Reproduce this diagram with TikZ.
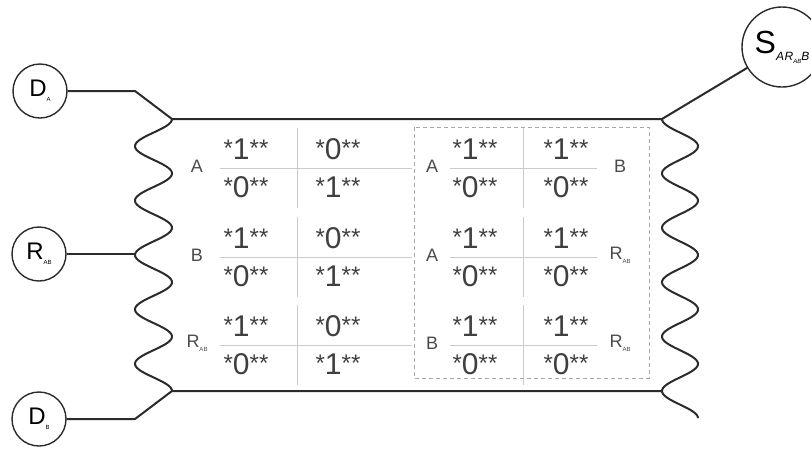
\documentclass[tikz,border=0pt]{standalone}
\usepackage{fontspec}
\setmainfont{Liberation Sans}
\usepackage{tikz}
\usetikzlibrary{positioning}
\definecolor{inkgray}{HTML}{2B2B2B}
\definecolor{rulegray}{HTML}{CACACA}
\definecolor{dashgray}{HTML}{A8A8A8}
\definecolor{labelgray}{HTML}{4A4A4A}
\newcommand{\tinysub}[1]{\raisebox{-0.4ex}{\fontsize{6}{6}\selectfont #1}}
\newcommand{\stars}[1]{\raisebox{3pt}{\fontsize{24}{24}\selectfont #1}}
\newcommand{\pat}[1]{\stars{*}#1\stars{**}}

\tikzset{
  party/.style={draw=inkgray, line width=1.4pt, circle, minimum size=54pt,
                inner sep=0pt, font=\fontsize{24}{24}\selectfont},
  wire/.style={draw=inkgray, line width=2pt, line join=round},
  bits/.style={inner sep=0pt, text=inkgray!90, font=\fontsize{30}{30}\selectfont},
  rowlabel/.style={inner sep=0pt, text=labelgray, font=\fontsize{18}{18}\selectfont},
  cellrule/.style={draw=rulegray, line width=1pt},
}

\begin{document}
\begin{tikzpicture}[x=1pt, y=-1pt]
    \clip (0,0) rectangle (811,448);
    % parties
    \node[party] (DA) at (40,91) {D\tinysub{A}};
    \node[party] (RAB) at (39,254) {R\tinysub{AB}};
    \node[party] (DB) at (39,419) {D\tinysub{B}};
    \node[party, minimum size=80pt, font=\fontsize{32}{32}\selectfont] (S) at (782,47)
      {S\raisebox{-0.45ex}{\fontsize{12}{12}\selectfont\itshape A\hspace{0.5pt}R\raisebox{-0.4ex}{\fontsize{6}{6}\selectfont AB}B}};

    % junctions
    \coordinate (kA) at (135,91);
    \coordinate (jA) at (172,119);
    \coordinate (jR) at (135,254);
    \coordinate (kB) at (135,419);
    \coordinate (jB) at (172,391);
    \coordinate (jS) at (662,119);
    \coordinate (jT) at (662,391);

    % walls
    \draw[wire] plot[domain=0:10, samples=201] ({153.5+18.5*cos(180*\x)}, {119+27.2*\x});
    \draw[wire] plot[domain=0:11, samples=221] ({680-18*cos(180*\x)}, {119+27.2*\x});

    \draw[wire] (DA) -- (kA) -- (jA) -- (jS) -- (S);
    \draw[wire] (RAB) -- (jR);
    \draw[wire] (DB) -- (kB) -- (jB) -- (jT);

    % dashed frame
    \draw[dashgray, line width=1pt, dash pattern=on 4pt off 3pt] (414,127) rectangle (649,378);

    % tables
    \foreach \ly/\la/\lb/\lc [count=\i] in {168/A/A/B,
        257/B/A/{R\tinysub{AB}},
        345/{R\tinysub{AB}}/B/{R\tinysub{AB}}} {
      \draw[cellrule] (297,\ly-40) -- (297,\ly+40);
      \draw[cellrule] (220,\ly) -- (412,\ly);
      \draw[cellrule] (523,\ly-40) -- (523,\ly+40);
      \draw[cellrule] (450,\ly) -- (597,\ly);
      \node[bits] (L\i a) at (246,\ly-19) {\pat{1}};
      \node[bits] (L\i b) at (338,\ly-19) {\pat{0}};
      \node[bits] (L\i c) at (246,\ly+19) {\pat{0}};
      \node[bits] (L\i d) at (338,\ly+19) {\pat{1}};
      \node[bits] (R\i a) at (475,\ly-19) {\pat{1}};
      \node[bits] (R\i b) at (566,\ly-19) {\pat{1}};
      \node[bits] (R\i c) at (475,\ly+19) {\pat{0}};
      \node[bits] (R\i d) at (566,\ly+19) {\pat{0}};
      \node[rowlabel] (la\i) at (197,\ly-2) {\la};
      \node[rowlabel] (lb\i) at (432,\ly-2) {\lb};
      \node[rowlabel] (lc\i) at (620,\ly-2) {\lc};
    }
  \end{tikzpicture}
\end{document}
